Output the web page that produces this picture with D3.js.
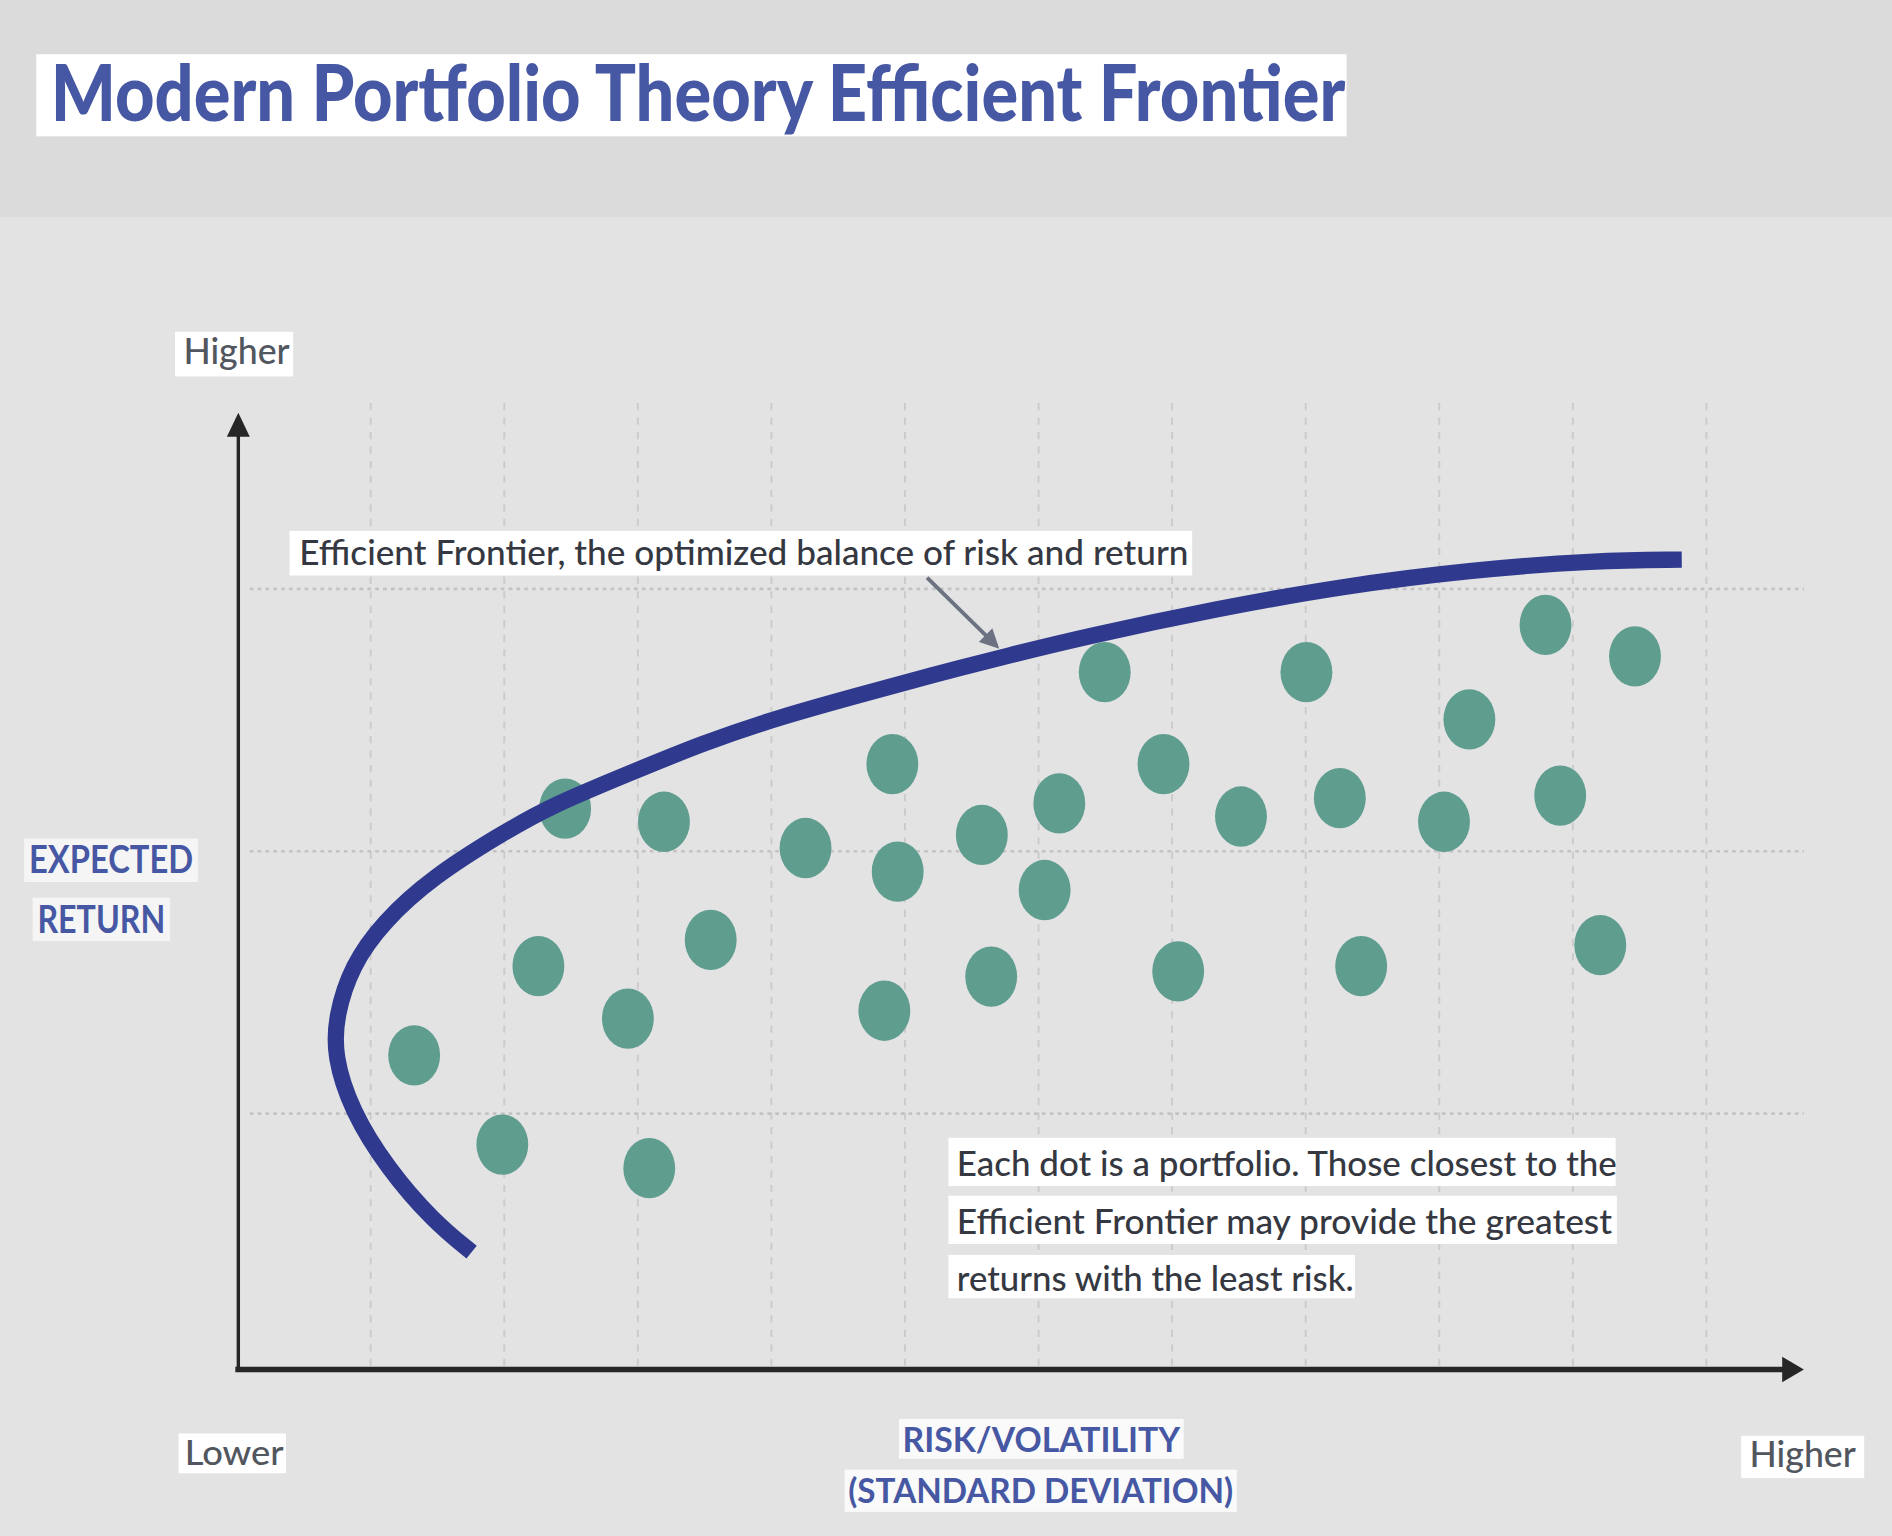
<!DOCTYPE html>
<html>
<head>
<meta charset="utf-8">
<script src="https://cdn.jsdelivr.net/npm/d3@7"></script>
<style>
  html, body { margin: 0; padding: 0; background: #e3e3e3; overflow: hidden; }
  svg { display: block; }
</style>
</head>
<body>
<div id="chart"></div>
<script>
// gridline positions (risk units / return units)
const riskGrid = [1, 2, 3, 4, 5, 6, 7, 8, 9, 10, 11];
const returnGrid = [1, 2, 3];

// portfolios (dots)
const portfolioRisk = [1.33, 1.99, 3.09, 2.26, 2.93, 3.55, 2.46, 3.20, 4.26, 4.91, 4.95, 4.85,
  5.58, 5.65, 6.16, 6.05, 6.50, 6.94, 7.05, 7.52, 8.01, 8.26, 8.42, 9.04, 9.23, 9.80, 9.91, 10.21, 10.47];
const portfolioReturn = [1.22, 0.88, 0.79, 1.56, 1.36, 1.66, 2.16, 2.11, 2.01, 2.33, 1.92, 1.39,
  2.06, 1.52, 2.18, 1.85, 2.68, 2.33, 1.54, 2.13, 2.68, 2.20, 1.56, 2.11, 2.50, 2.86, 2.21, 1.64, 2.74];

// efficient frontier curve
const frontierRisk = [1.76, 1.47, 1.13, 0.86, 0.73, 0.745, 0.86, 1.10, 1.47, 1.97, 2.35, 2.92,
  3.49, 4.07, 4.64, 5.21, 5.79, 6.36, 7.34, 8.28, 9.23, 10.18, 10.82];
const frontierReturn = [0.47, 0.59, 0.79, 1.01, 1.22, 1.37, 1.56, 1.73, 1.90, 2.06, 2.17, 2.29,
  2.41, 2.51, 2.59, 2.67, 2.745, 2.816, 2.922, 3.008, 3.069, 3.106, 3.109];

// annotation arrow (risk, return) from label to curve
const pointerRisk = [5.17, 5.69];
const pointerReturn = [3.04, 2.78];

const titleText = "Modern Portfolio Theory Efficient Frontier";
const frontierNote = "Efficient Frontier, the optimized balance of risk and return";
const dotNote = ["Each dot is a portfolio. Those closest to the",
  "Efficient Frontier may provide the greatest",
  "returns with the least risk."];
const yLabel = ["EXPECTED", "RETURN"];
const xLabel = ["RISK/VOLATILITY", "(STANDARD DEVIATION)"];

const W = 1568, H = 1273;
const FONT = "Lato, 'Noto Sans', sans-serif";
const NAVY = "#2f3a8e", SLATE = "#4657a3", TEAL = "#5f9d8f";

const svg = d3.select("#chart").append("svg")
  .attr("width", 1892).attr("height", 1536)
  .attr("viewBox", `0 0 ${W} ${H}`);

svg.append("rect").attr("width", W).attr("height", H).attr("fill", "#e3e3e3");
svg.append("rect").attr("width", W).attr("height", 180).attr("fill", "#dbdbdb");

const x = d3.scaleLinear().domain([0, 12]).range([196, 1524.4]);
const y = d3.scaleLinear().domain([0, 4]).range([1140, 270]);
const axisY = 1135, gridTop = 334, gridLeft = 207, gridRight = 1495;

// vertical dashed grid
const gx = svg.append("g")
  .attr("transform", `translate(0,${axisY - 3})`)
  .call(d3.axisBottom(x).tickValues(riskGrid).tickSize(-(axisY - 3 - gridTop)).tickFormat(""));
gx.select(".domain").remove();
gx.selectAll(".tick line").attr("stroke", "#cbcbcb").attr("stroke-width", 1.6).attr("stroke-dasharray", "6,6");

// horizontal dotted grid
const gy = svg.append("g")
  .attr("transform", `translate(${gridLeft},0)`)
  .call(d3.axisLeft(y).tickValues(returnGrid).tickSize(-(gridRight - gridLeft)).tickFormat(""));
gy.select(".domain").remove();
gy.selectAll(".tick line").attr("stroke", "#c3c3c3").attr("stroke-width", 2.2).attr("stroke-dasharray", "3,3.5");

// axes with arrowheads
const axisG = svg.append("g").attr("fill", "#262626").attr("stroke", "#262626");
axisG.append("line").attr("x1", x(0) + 1.5).attr("x2", x(0) + 1.5).attr("y1", 358).attr("y2", axisY)
  .attr("stroke-width", 2.8);
axisG.append("path").attr("stroke", "none")
  .attr("d", `M${x(0) + 1.5},342 L${x(0) + 11},362 L${x(0) - 8},362 Z`);
axisG.append("line").attr("x1", x(0) - 1).attr("x2", 1480).attr("y1", axisY).attr("y2", axisY)
  .attr("stroke-width", 4.5);
axisG.append("path").attr("stroke", "none")
  .attr("d", `M1495,${axisY} L1477,${axisY - 10.5} L1477,${axisY + 10.5} Z`);

// portfolios
svg.append("g").selectAll("ellipse")
  .data(portfolioRisk.map((r, i) => ({ risk: r, ret: portfolioReturn[i] })))
  .join("ellipse")
  .attr("cx", d => x(d.risk))
  .attr("cy", d => y(d.ret))
  .attr("rx", 21.5).attr("ry", 25)
  .attr("fill", TEAL);

// frontier
const line = d3.line().x(d => x(d[0])).y(d => y(d[1])).curve(d3.curveBasis);
svg.append("path")
  .datum(frontierRisk.map((r, i) => [r, frontierReturn[i]]))
  .attr("d", line)
  .attr("fill", "none")
  .attr("stroke", NAVY)
  .attr("stroke-width", 13.5)
  .attr("stroke-linecap", "butt");

// labels with white boxes
function label(g, o) {
  const t = g.append("text")
    .attr("x", o.x).attr("y", o.y)
    .attr("font-family", FONT)
    .attr("font-size", o.size)
    .attr("font-weight", o.weight || 400)
    .attr("fill", o.fill)
    .attr("text-anchor", o.anchor || "start")
    .attr("textLength", o.len)
    .attr("lengthAdjust", "spacingAndGlyphs")
    .text(o.text);
  if (o.box) {
    const [bx0, by0, bx1, by1] = o.box;
    g.insert("rect", "text")
      .attr("x", bx0).attr("y", by0)
      .attr("width", bx1 - bx0).attr("height", by1 - by0)
      .attr("fill", "#fff").attr("opacity", o.boxOpacity || 1);
  }
  return t;
}

const lg = svg.append("g");
label(lg.append("g"), { text: titleText, x: 42, y: 100, size: 64, weight: 900, fill: SLATE, len: 1073, box: [30, 45, 1116, 113] });
label(lg.append("g"), { text: "Higher", x: 152, y: 302, size: 30, weight: 500, fill: "#52565f", len: 88, box: [145, 275, 243, 312] });
label(lg.append("g"), { text: yLabel[0], x: 24, y: 723.5, size: 31, weight: 700, fill: SLATE, len: 136, box: [20, 695, 164, 731], boxOpacity: 0.65 });
label(lg.append("g"), { text: yLabel[1], x: 31, y: 773, size: 31, weight: 700, fill: SLATE, len: 106, box: [27, 744, 141, 780], boxOpacity: 0.65 });
label(lg.append("g"), { text: frontierNote, x: 248, y: 468, size: 28.5, weight: 500, fill: "#353841", len: 737, box: [240, 440, 988, 477] });
const noteLens = [547, 543, 329];
const noteBoxes = [[786, 943, 1339, 983], [786, 991, 1340, 1031], [786, 1040, 1123, 1076]];
dotNote.forEach((s, i) => {
  label(lg.append("g"), { text: s, x: 793, y: 975 + i * 47.5, size: 29, weight: 500, fill: "#353841", len: noteLens[i], box: noteBoxes[i] });
});
label(lg.append("g"), { text: "Lower", x: 153, y: 1214, size: 28, weight: 500, fill: "#52565f", len: 82, box: [148, 1188, 237, 1221] });
label(lg.append("g"), { text: xLabel[0], x: 863, y: 1203, size: 29, weight: 700, fill: SLATE, len: 230, anchor: "middle", box: [745, 1176, 981, 1209], boxOpacity: 0.8 });
label(lg.append("g"), { text: xLabel[1], x: 862.5, y: 1245.5, size: 29, weight: 700, fill: SLATE, len: 319, anchor: "middle", box: [700, 1218, 1025, 1253], boxOpacity: 0.8 });
label(lg.append("g"), { text: "Higher", x: 1450, y: 1216, size: 30, weight: 500, fill: "#52565f", len: 88, box: [1443, 1190, 1545, 1225] });

// pointer arrow
svg.append("defs").append("marker")
  .attr("id", "head").attr("viewBox", "0 0 10 10")
  .attr("refX", 8).attr("refY", 5)
  .attr("markerWidth", 5).attr("markerHeight", 5)
  .attr("orient", "auto")
  .append("path").attr("d", "M0,0 L10,5 L0,10 Z").attr("fill", "#6d7282");
svg.append("line")
  .attr("x1", x(pointerRisk[0])).attr("y1", y(pointerReturn[0]))
  .attr("x2", x(pointerRisk[1])).attr("y2", y(pointerReturn[1]))
  .attr("stroke", "#6d7282").attr("stroke-width", 3.2)
  .attr("marker-end", "url(#head)");
</script>
</body>
</html>
